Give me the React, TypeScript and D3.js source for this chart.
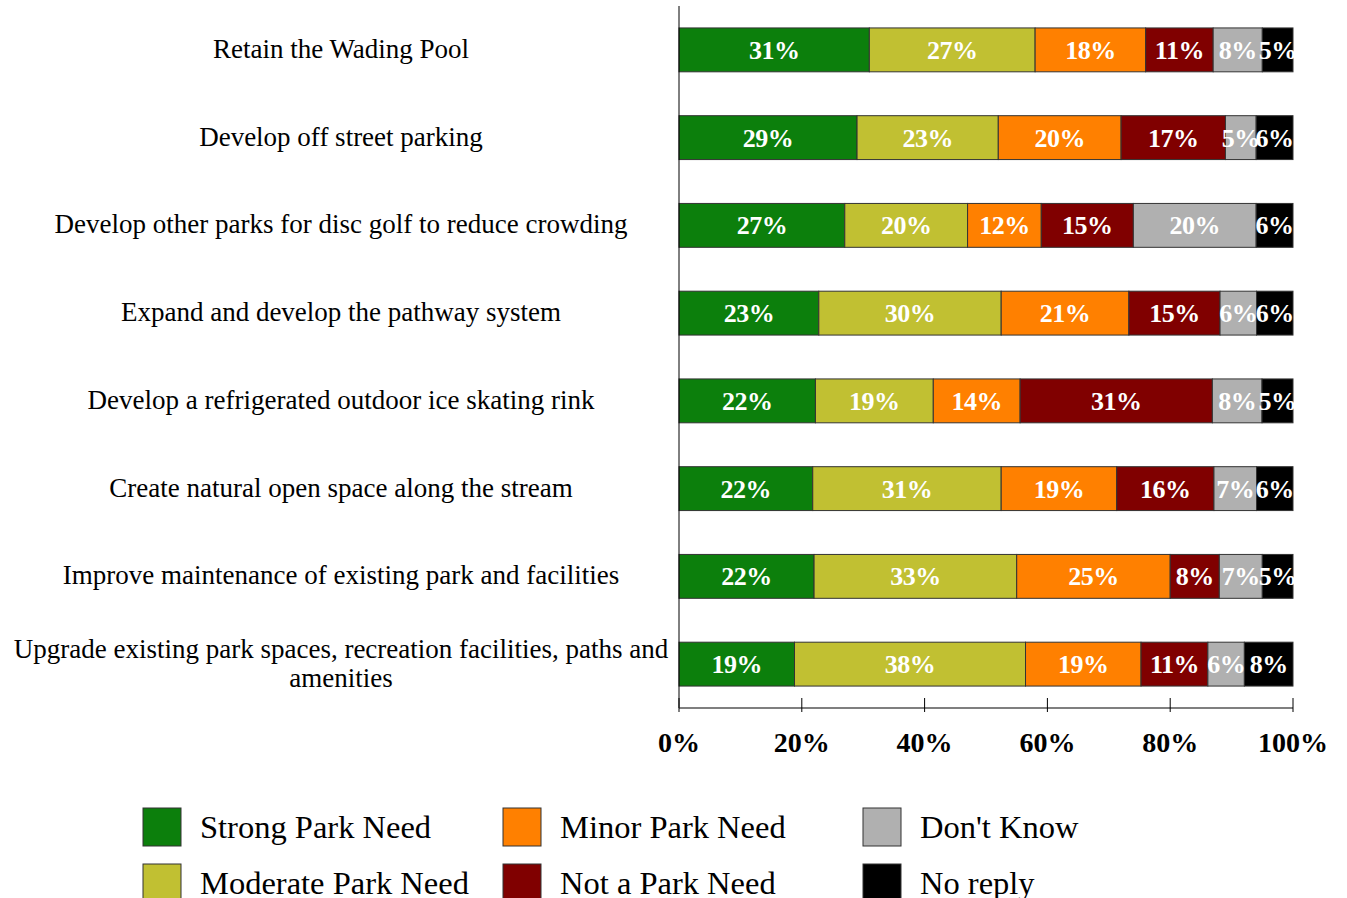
import { useEffect, useRef } from 'react';
import * as d3 from 'd3';

const categories = [
  'Retain the Wading Pool',
  'Develop off street parking',
  'Develop other parks for disc golf to reduce crowding',
  'Expand and develop the pathway system',
  'Develop a refrigerated outdoor ice skating rink',
  'Create natural open space along the stream',
  'Improve maintenance of existing park and facilities',
  'Upgrade existing park spaces, recreation facilities, paths and amenities',
];

const seriesNames = [
  'Strong Park Need',
  'Moderate Park Need',
  'Minor Park Need',
  'Not a Park Need',
  "Don't Know",
  'No reply',
];

const seriesColors = ['#0c7f0c', '#c1c032', '#ff8000', '#800000', '#b0b0b0', '#000000'];

const strong = [31, 29, 27, 23, 22, 22, 22, 19];
const moderate = [27, 23, 20, 30, 19, 31, 33, 38];
const minor = [18, 20, 12, 21, 14, 19, 25, 19];
const notNeed = [11, 17, 15, 15, 31, 16, 8, 11];
const dontKnow = [8, 5, 20, 6, 8, 7, 7, 6];
const noReply = [5, 6, 6, 6, 5, 6, 5, 8];

const xTicks = [0, 0.2, 0.4, 0.6, 0.8, 1];

const W = 1347;
const H = 898;
const FONT = '"Liberation Serif", "DejaVu Serif", serif';

const App = () => {
  const ref = useRef<SVGSVGElement | null>(null);

  useEffect(() => {
    document.body.style.margin = '0';
    if (!ref.current) return;
    const svg = d3.select(ref.current);
    svg.selectAll('*').remove();

    const left = 679;
    const right = 1293;
    const top = 6;
    const bottom = 708;

    const cols = [strong, moderate, minor, notNeed, dontKnow, noReply];
    const rows = categories.map((c, i) => {
      const r: Record<string, number | string> = { cat: c };
      seriesNames.forEach((s, j) => (r[s] = cols[j][i]));
      return r;
    });

    const stack = d3
      .stack<Record<string, number | string>>()
      .keys(seriesNames)
      .value((d, k) => d[k] as number)
      .offset(d3.stackOffsetExpand);
    const stacked = stack(rows);

    const x = d3.scaleLinear([0, 1], [left, right]);
    const y = d3
      .scaleBand<string>()
      .domain(categories)
      .range([top, bottom])
      .paddingInner(0.5)
      .paddingOuter(0.25);

    // bars
    const layers = svg
      .append('g')
      .selectAll('g')
      .data(stacked)
      .join('g')
      .attr('fill', (_, i) => seriesColors[i]);

    layers
      .selectAll('rect')
      .data(d => d)
      .join('rect')
      .attr('x', d => x(d[0]))
      .attr('y', d => y(d.data.cat as string)!)
      .attr('width', d => x(d[1]) - x(d[0]))
      .attr('height', y.bandwidth())
      .attr('stroke', '#333')
      .attr('stroke-width', 1);

    // value labels
    stacked.forEach((layer, si) => {
      svg
        .append('g')
        .selectAll('text')
        .data(layer)
        .join('text')
        .attr('x', d => (x(d[0]) + x(d[1])) / 2)
        .attr('y', d => y(d.data.cat as string)! + y.bandwidth() / 2)
        .attr('dy', '0.35em')
        .attr('text-anchor', 'middle')
        .attr('font-family', FONT)
        .attr('font-weight', 700)
        .attr('font-size', 26)
        .attr('letter-spacing', -0.5)
        .attr('fill', '#fff')
        .text(d => `${d.data[seriesNames[si]]}%`);
    });

    // axes
    svg
      .append('line')
      .attr('x1', left)
      .attr('x2', left)
      .attr('y1', top)
      .attr('y2', bottom)
      .attr('stroke', '#000');

    const xAxis = svg.append('g');
    xAxis
      .append('line')
      .attr('x1', left)
      .attr('x2', right)
      .attr('y1', bottom)
      .attr('y2', bottom)
      .attr('stroke', '#555')
      .attr('stroke-width', 1.5);
    xAxis
      .selectAll('line.tick')
      .data(xTicks)
      .join('line')
      .attr('class', 'tick')
      .attr('x1', d => x(d))
      .attr('x2', d => x(d))
      .attr('y1', bottom - 10)
      .attr('y2', bottom + 4)
      .attr('stroke', '#000');
    xAxis
      .selectAll('text')
      .data(xTicks)
      .join('text')
      .attr('x', d => x(d))
      .attr('y', 752)
      .attr('text-anchor', 'middle')
      .attr('font-family', FONT)
      .attr('font-weight', 700)
      .attr('font-size', 28)
      .attr('fill', '#000')
      .text(d => d3.format('.0%')(d));

    // category labels
    const catG = svg.append('g');
    categories.forEach(c => {
      const cy = y(c)! + y.bandwidth() / 2;
      const lines =
        c.length > 60
          ? ['Upgrade existing park spaces, recreation facilities, paths and', 'amenities']
          : [c];
      const t = catG
        .append('text')
        .attr('x', 341)
        .attr('text-anchor', 'middle')
        .attr('font-family', FONT)
        .attr('font-size', 27)
        .attr('fill', '#000');
      lines.forEach((l, i) => {
        t.append('tspan')
          .attr('x', 341)
          .attr('y', cy + 8 + (i - (lines.length - 1) / 2) * 29)
          .text(l);
      });
    });

    // legend
    const legend = svg.append('g');
    seriesNames.forEach((s, i) => {
      const col = Math.floor(i / 2);
      const row = i % 2;
      const lx = 143 + col * 360;
      const ly = 808 + row * 56;
      legend
        .append('rect')
        .attr('x', lx)
        .attr('y', ly)
        .attr('width', 38)
        .attr('height', 38)
        .attr('fill', seriesColors[i])
        .attr('stroke', '#333');
      legend
        .append('text')
        .attr('x', lx + 57)
        .attr('y', ly + 30)
        .attr('font-family', FONT)
        .attr('font-size', 32.5)
        .attr('fill', '#000')
        .text(s);
    });
  }, []);

  return <svg ref={ref} width={W} height={H} style={{ display: 'block', background: '#fff' }} />;
};

export default App;
